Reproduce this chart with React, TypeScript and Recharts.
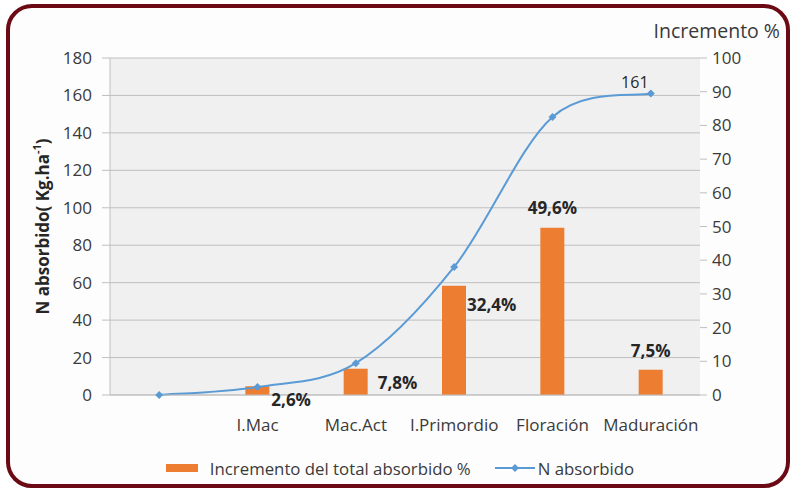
import { ComposedChart, Bar, Line, XAxis, YAxis, CartesianGrid, Legend, LabelList } from 'recharts';

const stages = ['', 'I.Mac', 'Mac.Act', 'I.Primordio', 'Floración', 'Maduración'];
const incremento = [null, 2.6, 7.8, 32.4, 49.6, 7.5];
const incrementoLabels = ['', '2,6%', '7,8%', '32,4%', '49,6%', '7,5%'];
const nAbsorbido = [0, 4.3, 17, 68.4, 148.5, 161];
const nLabels = ['', '', '', '', '', '161'];
const leftTicks = [0, 20, 40, 60, 80, 100, 120, 140, 160, 180];
const rightTicks = [0, 10, 20, 30, 40, 50, 60, 70, 80, 90, 100];

// hand-placed label offsets, like the Excel original: [side, dx, dy]
const barLabelSpots: [string, number, number][] = [
  ['right', 0, 0],
  ['right', 2, 13],
  ['right', 10, 14],
  ['right', 1, 19],
  ['top', 0, -20],
  ['top', 0, -19],
];

const data = stages.map((stage, i) => ({ stage, inc: incremento[i], n: nAbsorbido[i] }));

const FONT = '"Open Sans", Lato, sans-serif';
const ORANGE = '#ED7D31';
const BLUE = '#5B9BD5';
const TEXT = '#3a3a3a';

// Excel-style smoothed line (Catmull-Rom through the points)
function excelSmooth(context: any) {
  let pts: [number, number][] = [];
  return {
    areaStart() {},
    areaEnd() {},
    lineStart() { pts = []; },
    point(x: number, y: number) { pts.push([+x, +y]); },
    lineEnd() {
      if (!pts.length) return;
      context.moveTo(pts[0][0], pts[0][1]);
      for (let i = 0; i < pts.length - 1; i++) {
        const p0 = pts[Math.max(i - 1, 0)];
        const p1 = pts[i];
        const p2 = pts[i + 1];
        const p3 = pts[Math.min(i + 2, pts.length - 1)];
        context.bezierCurveTo(
          p1[0] + (p2[0] - p0[0]) / 6, p1[1] + (p2[1] - p0[1]) / 6,
          p2[0] - (p3[0] - p1[0]) / 6, p2[1] - (p3[1] - p1[1]) / 6,
          p2[0], p2[1]
        );
      }
    },
  };
}

function BarTag(props: any) {
  const { x, y, width, value } = props;
  const index = incremento.indexOf(value);
  const text = incrementoLabels[index];
  if (!text) return null;
  const [side, dx, dy] = barLabelSpots[index];
  const tx = side === 'top' ? x + width / 2 : x + width + dx;
  return (
    <text x={tx} y={y + dy} textAnchor={side === 'top' ? 'middle' : 'start'} dominantBaseline="central"
      fontFamily={FONT} fontSize={17} fontWeight={700} fill="#262626">
      {text}
    </text>
  );
}

function LineTag(props: any) {
  const { x, y, index } = props;
  const text = nLabels[index];
  if (!text) return null;
  return (
    <text x={x - 16} y={y - 12} textAnchor="middle" dominantBaseline="central"
      fontFamily={FONT} fontSize={16} fill="#262626">
      {text}
    </text>
  );
}

function Diamond(props: any) {
  const { cx, cy, index } = props;
  if (cx == null || cy == null) return <g key={index} />;
  const r = 4;
  return <path key={index} d={`M${cx},${cy - r}L${cx + r},${cy}L${cx},${cy + r}L${cx - r},${cy}Z`} fill={BLUE} />;
}

function LegendBox() {
  return (
    <div style={{ display: 'flex', justifyContent: 'center', alignItems: 'center', height: 20, fontFamily: FONT, fontSize: 16.8, color: TEXT }}>
      <span style={{ display: 'inline-block', width: 32, height: 8, background: ORANGE, marginRight: 12 }} />
      <span>Incremento del total absorbido %</span>
      <svg width={40} height={10} style={{ marginLeft: 24, marginRight: 3 }}>
        <line x1={0} y1={5} x2={40} y2={5} stroke={BLUE} strokeWidth={2} />
        <path d="M20,1L24,5L20,9L16,5Z" fill={BLUE} />
      </svg>
      <span>N absorbido</span>
    </div>
  );
}

function LeftTitle(props: any) {
  const vb = props.viewBox;
  const cx = 42;
  const cy = vb.y + vb.height / 2;
  return (
    <text x={cx} y={cy} transform={`rotate(-90, ${cx}, ${cy})`} textAnchor="middle" dominantBaseline="central"
      fontFamily={FONT} fontSize={17} fontWeight={700} fill="#262626">
      N absorbido( Kg.ha<tspan dy={-6} fontSize={11}>-1</tspan><tspan dy={6}>)</tspan>
    </text>
  );
}

function RightTitle(props: any) {
  const vb = props.viewBox;
  return (
    <text x={vb.x + vb.width + 20} y={vb.y - 28} textAnchor="end" dominantBaseline="central"
      fontFamily={FONT} fontSize={19.5} fill={TEXT}>
      Incremento %
    </text>
  );
}

export default function App() {
  return (
    <div style={{ position: 'absolute', left: 0, top: 0, width: 792, height: 490, background: '#fff' }}>
      <div style={{ position: 'absolute', left: 6, top: 4, width: 776, height: 476, border: '4px solid #6b0a14', borderRadius: 26, background: '#fdfdfd' }} />
      <div style={{ position: 'absolute', left: 0, top: 0 }}>
        <ComposedChart width={792} height={490} data={data} margin={{ top: 58, right: 32, left: 40, bottom: 12 }}>
          <CartesianGrid yAxisId="left" vertical={false} stroke="#bfbfbf" fill="#f0f0f0" />
          <XAxis dataKey="stage" height={63} tickLine={false} axisLine={{ stroke: '#bfbfbf' }} tickMargin={18}
            tick={{ fontFamily: FONT, fontSize: 17, fill: TEXT }} interval={0} />
          <YAxis yAxisId="left" width={70} domain={[0, 180]} ticks={leftTicks} tickSize={8} tickMargin={10}
            axisLine={{ stroke: '#bfbfbf' }} tickLine={{ stroke: '#bfbfbf' }}
            tick={{ fontFamily: FONT, fontSize: 17, fill: TEXT }} label={<LeftTitle />} />
          <YAxis yAxisId="right" orientation="right" width={60} domain={[0, 100]} ticks={rightTicks} tickSize={7} tickMargin={5}
            axisLine={false} tickLine={{ stroke: '#bfbfbf' }}
            tick={{ fontFamily: FONT, fontSize: 17, fill: TEXT }} label={<RightTitle />} />
          <Legend verticalAlign="bottom" content={() => <LegendBox />} />
          <Bar yAxisId="right" dataKey="inc" fill={ORANGE} barSize={24} isAnimationActive={false}>
            <LabelList dataKey="inc" content={<BarTag />} />
          </Bar>
          <Line yAxisId="left" type={excelSmooth as any} dataKey="n" stroke={BLUE} strokeWidth={2} dot={Diamond} activeDot={false} isAnimationActive={false}>
            <LabelList dataKey="n" content={<LineTag />} />
          </Line>
        </ComposedChart>
      </div>
    </div>
  );
}
